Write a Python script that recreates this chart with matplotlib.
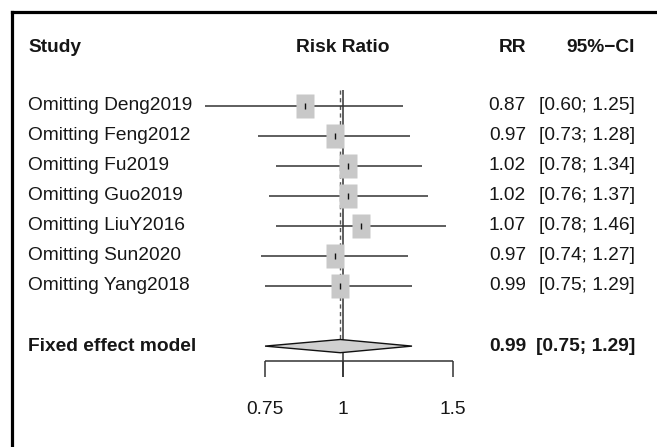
import numpy as np
from matplotlib import pyplot as plt
from matplotlib.path import Path
from matplotlib.lines import Line2D
import matplotlib.transforms as mtransforms

#################################################

# leave-one-out data
studies = ['Omitting Deng2019', 'Omitting Feng2012', 'Omitting Fu2019',
           'Omitting Guo2019', 'Omitting LiuY2016', 'Omitting Sun2020',
           'Omitting Yang2018']
rr = [0.87, 0.97, 1.02, 1.02, 1.07, 0.97, 0.99]
lower = [0.60, 0.73, 0.78, 0.76, 0.78, 0.74, 0.75]
upper = [1.25, 1.28, 1.34, 1.37, 1.46, 1.27, 1.29]

fixed_label = 'Fixed effect model'
fixed_rr = 0.99
fixed_lower = 0.75
fixed_upper = 1.29

xticks = [0.75, 1, 1.5]
xtick_labels = ['0.75', '1', '1.5']

#################################################

W, H = 657, 447
fig = plt.figure(figsize=(W / 100, H / 100), dpi=100)

# pixel mapping: x=1 at px 343, 271 px per log unit; rows 30.05 px apart
px_per_log = 271.0
x_one = 343.0
row_px = 30.05
row1_px = 105.7

ax = fig.add_axes([0, 0, 1, 1])
ax.set_xscale('log')
ax.set_xlim(np.exp((0 - x_one) / px_per_log), np.exp((W - x_one) / px_per_log))
ax.set_ylim(1 + (H - row1_px) / row_px, 1 - row1_px / row_px)
ax.axis('off')

def row(px):
    return 1 + (px - row1_px) / row_px

rows = np.arange(1, len(studies) + 1)
fixed_row = len(studies) + 2

line_col = '#333333'
txt_col = '#161616'
fs = 13.8

# reference lines
ax.vlines(1, row(90), row(377), color=line_col, lw=1.1, zorder=1)
ax.vlines(fixed_rr, row(90), fixed_row - 0.22, color='#555555', lw=1.0,
          linestyles=(0, (3, 2.5)), zorder=1)

# confidence intervals
ax.hlines(rows, lower, upper, color=line_col, lw=1.1, zorder=2)

# boxes (rectangular, as in reference)
box = Path([(-17, -23), (17, -23), (17, 23), (-17, 23), (-17, -23)],
           [Path.MOVETO, Path.LINETO, Path.LINETO, Path.LINETO, Path.CLOSEPOLY])
ax.plot(rr, rows, linestyle='none', marker=box, markersize=17.0,
        markerfacecolor='#c8c8c8', markeredgecolor='none', zorder=3)
ax.plot(rr, rows, linestyle='none', marker='|', markersize=5,
        markeredgewidth=1.0, color='#111111', zorder=4)

# diamond
dh = 0.22
ax.fill([fixed_lower, fixed_rr, fixed_upper, fixed_rr],
        [fixed_row, fixed_row - dh, fixed_row, fixed_row + dh],
        facecolor='#d0d0d0', edgecolor='#111111', lw=1.0, zorder=3)

# x axis
axis_row = row(361)
tick_end = row(377)
ax.hlines(axis_row, xticks[0], xticks[-1], color=line_col, lw=1.1)
ax.vlines(xticks, axis_row, tick_end, color=line_col, lw=1.1)
for t, lab in zip(xticks, xtick_labels):
    ax.text(t, row(409), lab, ha='center', va='center', fontsize=fs,
            color=txt_col, family='Liberation Sans')

# text columns: figure x, data y
trans = mtransforms.blended_transform_factory(fig.transFigure, ax.transData)
xl = 28 / W
x_rr = 526 / W
x_ci = 635 / W

hdr_row = row(47)
ax.text(xl, hdr_row, 'Study', transform=trans, ha='left', va='center',
        fontsize=fs, fontweight='bold', color=txt_col, family='Liberation Sans')
ax.text(1, hdr_row, 'Risk Ratio', ha='center', va='center',
        fontsize=fs, fontweight='bold', color=txt_col, family='Liberation Sans')
ax.text(x_rr, hdr_row, 'RR', transform=trans, ha='right', va='center',
        fontsize=fs, fontweight='bold', color=txt_col, family='Liberation Sans')
ax.text(x_ci, hdr_row, '95%\u2212CI', transform=trans, ha='right', va='center',
        fontsize=fs, fontweight='bold', color=txt_col, family='Liberation Sans')

for r, s, v, lo, hi in zip(rows, studies, rr, lower, upper):
    ax.text(xl, r, s, transform=trans, ha='left', va='center',
            fontsize=fs, color=txt_col, family='Liberation Sans')
    ax.text(x_rr, r, '%.2f' % v, transform=trans, ha='right', va='center',
            fontsize=fs, color=txt_col, family='Liberation Sans')
    ax.text(x_ci, r, '[%.2f; %.2f]' % (lo, hi), transform=trans, ha='right',
            va='center', fontsize=fs, color=txt_col, family='Liberation Sans')

ax.text(xl, fixed_row, fixed_label, transform=trans, ha='left', va='center',
        fontsize=fs, fontweight='bold', color=txt_col, family='Liberation Sans')
ax.text(x_rr, fixed_row, '%.2f' % fixed_rr, transform=trans, ha='right',
        va='center', fontsize=fs, fontweight='bold', color=txt_col,
        family='Liberation Sans')
ax.text(x_ci, fixed_row, '[%.2f; %.2f]' % (fixed_lower, fixed_upper),
        transform=trans, ha='right', va='center', fontsize=fs,
        fontweight='bold', color=txt_col, family='Liberation Sans')

# outer frame (left and top edges)
fl = 11.5 / W
ft = 1 - 11.5 / H
fig.add_artist(Line2D([fl, fl], [0, ft], transform=fig.transFigure,
                      color='black', lw=2.3, solid_capstyle='projecting'))
fig.add_artist(Line2D([fl, 1], [ft, ft], transform=fig.transFigure,
                      color='black', lw=2.3, solid_capstyle='projecting'))

plt.savefig('out.png', dpi=100)
